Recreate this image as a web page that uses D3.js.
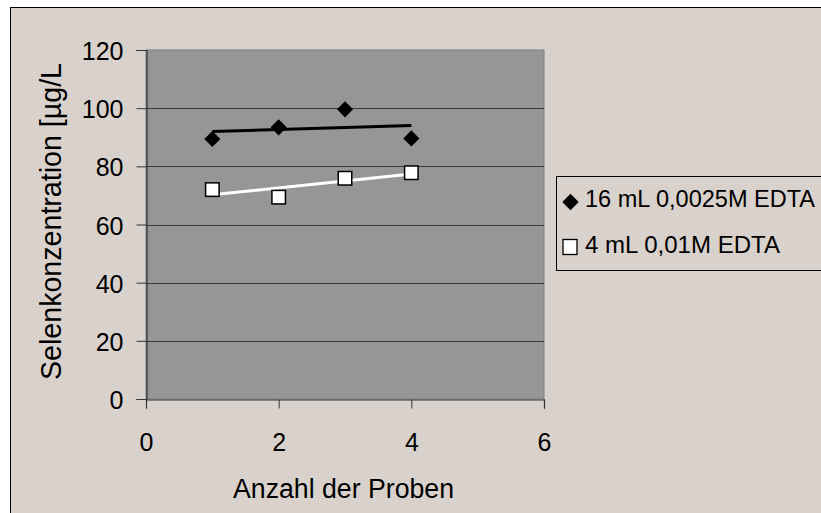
<!DOCTYPE html>
<html>
<head>
<meta charset="utf-8">
<script src="https://cdn.jsdelivr.net/npm/d3@7"></script>
<style>
  html, body { margin: 0; padding: 0; background: #ffffff; }
  svg { display: block; }
  text { font-family: "Liberation Sans", Arial, sans-serif; fill: #000; }
</style>
</head>
<body>
<svg id="chart" width="821" height="513"></svg>
<script>
// Sample numbers (x) and measured selenium concentrations (µg/L)
const samples = [1, 2, 3, 4];
const seriesNames = ["16 mL 0,0025M EDTA", "4 mL 0,01M EDTA"];
const edta16 = [89.4, 93.4, 99.6, 89.6];
const edta4 = [72.0, 69.4, 75.9, 77.8];
const xTicks = [0, 2, 4, 6];
const yTicks = [0, 20, 40, 60, 80, 100, 120];
const xTitle = "Anzahl der Proben";
const yTitle = "Selenkonzentration [µg/L";

const svg = d3.select("#chart");
const W = 821, H = 513;
const plot = { left: 146, top: 50, right: 544, bottom: 399 };
const BG = "#d9d1cb";

// Chart frame
svg.append("rect").attr("x", 10.5).attr("y", 7.5)
  .attr("width", W).attr("height", H)
  .attr("fill", BG).attr("stroke", "#000").attr("stroke-width", 1);

const x = d3.scaleLinear().domain([0, 6]).range([plot.left, plot.right]);
const y = d3.scaleLinear().domain([0, 120]).range([plot.bottom, plot.top]);

// Plot area
svg.append("rect")
  .attr("x", plot.left).attr("y", plot.top)
  .attr("width", plot.right - plot.left).attr("height", plot.bottom - plot.top)
  .attr("fill", "#969696").attr("stroke", "#7f7f7f").attr("stroke-width", 1);

// Horizontal gridlines
svg.append("g").selectAll("line")
  .data(yTicks.filter(t => t > 0 && t < 120))
  .join("line")
  .attr("x1", plot.left).attr("x2", plot.right)
  .attr("y1", d => Math.round(y(d)) + 0.5).attr("y2", d => Math.round(y(d)) + 0.5)
  .attr("stroke", "#3a3a3a").attr("stroke-width", 1);

// Axes
const yAxis = svg.append("g")
  .attr("transform", `translate(${plot.left + 0.5},0)`)
  .call(d3.axisLeft(y).tickValues(yTicks).tickSize(10).tickPadding(13).tickFormat(d3.format("d")));
const xAxis = svg.append("g")
  .attr("transform", `translate(0,${plot.bottom + 0.5})`)
  .call(d3.axisBottom(x).tickValues(xTicks).tickSize(9).tickPadding(25).tickFormat(d3.format("d")));

[yAxis, xAxis].forEach(g => {
  g.select(".domain").attr("stroke", "#333").attr("stroke-width", 1.2);
  g.selectAll(".tick line").attr("stroke", "#333");
  g.selectAll(".tick text")
    .attr("font-family", "Liberation Sans, Arial, sans-serif")
    .attr("font-size", 25).attr("fill", "#000");
});
yAxis.selectAll(".tick text").attr("dy", "0.38em");

// Axis titles
svg.append("text")
  .attr("x", 343.5).attr("y", 498)
  .attr("text-anchor", "middle").attr("font-size", 27)
  .attr("textLength", 221).attr("lengthAdjust", "spacingAndGlyphs")
  .text(xTitle);
svg.append("text")
  .attr("transform", "translate(61,221.5) rotate(-90)")
  .attr("text-anchor", "middle").attr("font-size", 29)
  .attr("textLength", 317).attr("lengthAdjust", "spacingAndGlyphs")
  .text(yTitle);

// Linear trend lines across the sample range
function trend(ys) {
  const mx = d3.mean(samples), my = d3.mean(ys);
  const slope = d3.sum(samples, (s, i) => (s - mx) * (ys[i] - my)) /
                d3.sum(samples, s => (s - mx) ** 2);
  const b = my - slope * mx;
  const x0 = d3.min(samples), x1 = d3.max(samples);
  return [[x0, b + slope * x0], [x1, b + slope * x1]];
}
const line = d3.line().x(d => x(d[0])).y(d => y(d[1]));

svg.append("path").datum(trend(edta16))
  .attr("d", line).attr("fill", "none").attr("stroke", "#000").attr("stroke-width", 3);
svg.append("path").datum(trend(edta4))
  .attr("d", line).attr("fill", "none").attr("stroke", "#fff").attr("stroke-width", 3);

// Markers
const diamond = d3.symbol().type(d3.symbolSquare).size(130);
svg.append("g").selectAll("path")
  .data(samples.map((s, i) => [s, edta16[i]]))
  .join("path")
  .attr("d", diamond)
  .attr("transform", d => `translate(${x(d[0])},${y(d[1])}) rotate(45)`)
  .attr("fill", "#000");

const sq = 13.5;
svg.append("g").selectAll("rect")
  .data(samples.map((s, i) => [s, edta4[i]]))
  .join("rect")
  .attr("x", d => x(d[0]) - sq / 2).attr("y", d => y(d[1]) - sq / 2)
  .attr("width", sq).attr("height", sq)
  .attr("fill", "#fff").attr("stroke", "#000").attr("stroke-width", 1.5);

// Legend
const legend = svg.append("g");
legend.append("rect")
  .attr("x", 556.5).attr("y", 176.5).attr("width", 300).attr("height", 94)
  .attr("fill", BG).attr("stroke", "#000").attr("stroke-width", 1);
legend.append("path")
  .attr("d", d3.symbol().type(d3.symbolSquare).size(135))
  .attr("transform", "translate(570.5,202) rotate(45)")
  .attr("fill", "#000");
legend.append("rect")
  .attr("x", 563).attr("y", 239.5).attr("width", 14).attr("height", 15)
  .attr("fill", "#fff").attr("stroke", "#000").attr("stroke-width", 1.3);
const legendLengths = [230, 195];
legend.selectAll("text.lg")
  .data(seriesNames)
  .join("text").attr("class", "lg")
  .attr("x", 585).attr("y", (d, i) => 207 + i * 46)
  .attr("font-size", 24.5)
  .attr("textLength", (d, i) => legendLengths[i]).attr("lengthAdjust", "spacingAndGlyphs")
  .text(d => d);
</script>
</body>
</html>
